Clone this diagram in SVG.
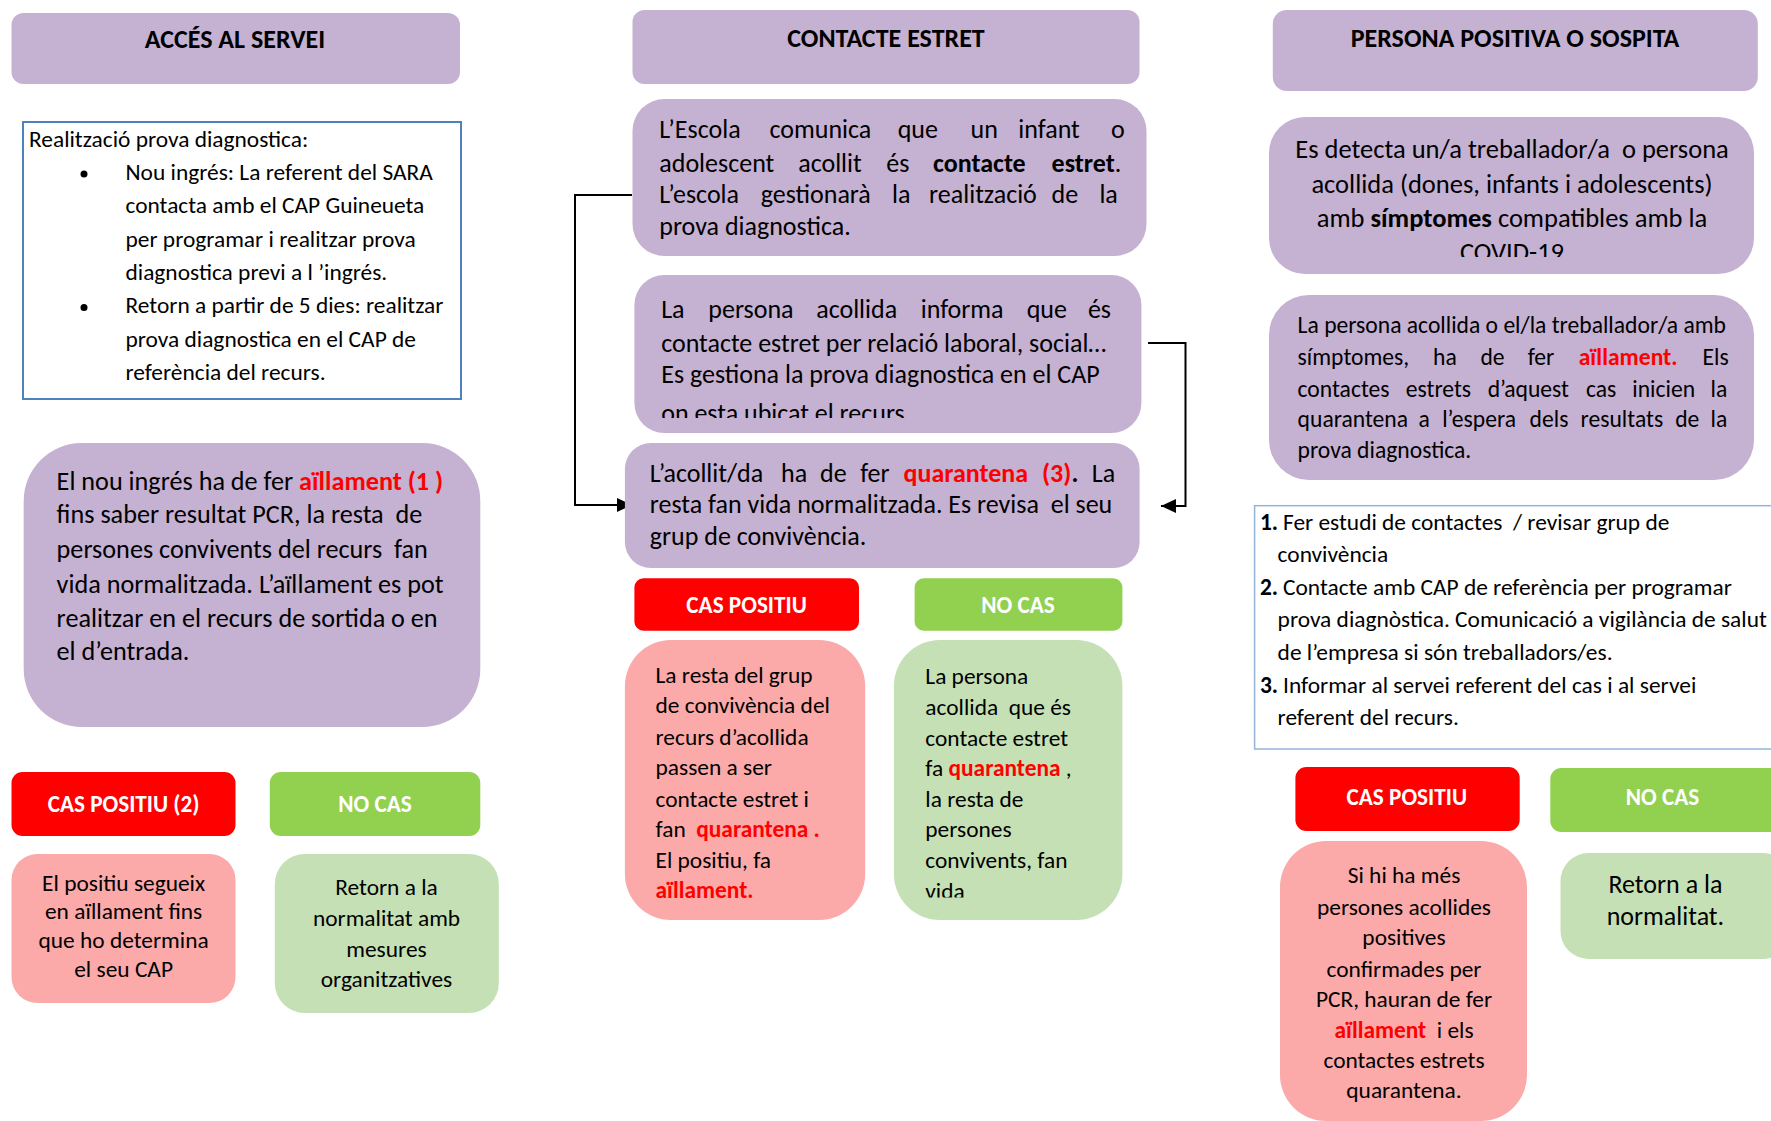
<svg xmlns="http://www.w3.org/2000/svg" width="1771" height="1121" viewBox="0 0 1771 1121">
<style>
text{font-family:Carlito,Lato,"Liberation Sans",sans-serif;fill:#000}
.hdr{fill:#c5b1d1}
.pur{fill:#c5b1d1}
.red{fill:#ff0000}
.grn{fill:#92d050}
.pink{fill:#fbaaa9}
.lgrn{fill:#c5e0b4}
.ht{font-size:26px;font-weight:bold;text-anchor:middle}
.lab{font-size:23.2px;font-weight:bold;text-anchor:middle;fill:#fff}
.b{font-weight:bold}
.r{font-weight:bold;fill:#ff0000}
.tblue{font-size:23.4px}
.tbig{font-size:26px}
.tleft{font-size:26.2px}
.tsm{font-size:23.4px}
.tr1{font-size:26.5px}
.tr2{font-size:23.6px}
.c{text-anchor:middle}
.conn{fill:none;stroke:#000;stroke-width:2}
</style>
<defs>
<marker id="arr" markerUnits="userSpaceOnUse" markerWidth="16" markerHeight="16" refX="15" refY="8" orient="auto">
<path d="M0,1 L15,8 L0,15 Z" fill="#000"/>
</marker>
<clipPath id="cp3"><rect x="634" y="275" width="508" height="143"/></clipPath>
<clipPath id="cpr1"><rect x="1269" y="117" width="485" height="140"/></clipPath>
<clipPath id="cpg"><rect x="894" y="640" width="228" height="257.5"/></clipPath>
</defs>

<g id="connectors">
<path class="conn" d="M632,195 H575 V505 H632" marker-end="url(#arr)"/>
<path class="conn" d="M1148,343 H1185.5 V506 H1161" marker-end="url(#arr)"/>
</g>

<!-- Left column -->
<g id="hdr-acces">
<rect class="hdr" x="11.5" y="13" width="448.5" height="71" rx="12"/>
<text class="ht" x="235" y="48">ACCÉS AL SERVEI</text>
</g>

<g id="prova-box">
<rect x="23" y="122" width="438" height="277" fill="#fff" stroke="#4f81bd" stroke-width="2"/>
<g class="tblue">
<text x="29" y="147">Realització prova diagnostica:</text>
<circle cx="84" cy="174" r="3.5"/>
<text x="125.5" y="180">Nou ingrés: La referent del SARA</text>
<text x="125.5" y="213.3">contacta amb el CAP Guineueta</text>
<text x="125.5" y="246.7">per programar i realitzar prova</text>
<text x="125.5" y="280">diagnostica previ a l ’ingrés.</text>
<circle cx="84" cy="307.5" r="3.5"/>
<text x="125.5" y="313.3">Retorn a partir de 5 dies: realitzar</text>
<text x="125.5" y="346.7">prova diagnostica en el CAP de</text>
<text x="125.5" y="380">referència del recurs.</text>
</g>
</g>

<g id="nou-ingres">
<rect class="pur" x="23.7" y="443" width="456.6" height="284" rx="58"/>
<g class="tleft">
<text x="56.6" y="490">El nou ingrés ha de fer <tspan class="r">aïllament (1 )</tspan></text>
<text x="56.6" y="523.3" xml:space="preserve">fins saber resultat PCR, la resta  de</text>
<text x="56.6" y="558.3" xml:space="preserve">persones convivents del recurs  fan</text>
<text x="56.6" y="592.7">vida normalitzada. L’aïllament es pot</text>
<text x="56.6" y="626.7">realitzar en el recurs de sortida o en</text>
<text x="56.6" y="660">el d’entrada.</text>
</g>
</g>

<g id="l-cas-positiu">
<rect class="red" x="11.5" y="772" width="224" height="64" rx="11"/>
<text class="lab" x="123.6" y="811.7">CAS POSITIU (2)</text>
</g>
<g id="l-no-cas">
<rect class="grn" x="269.8" y="772" width="210.5" height="64" rx="11"/>
<text class="lab" x="375" y="811.7">NO CAS</text>
</g>
<g id="l-positiu-text">
<rect class="pink" x="11.5" y="854" width="224" height="149" rx="26"/>
<g class="tsm c">
<text x="123.6" y="890.7">El positiu segueix</text>
<text x="123.6" y="919.3">en aïllament fins</text>
<text x="123.6" y="948.3">que ho determina</text>
<text x="123.6" y="976.7">el seu CAP</text>
</g>
</g>
<g id="l-nocas-text">
<rect class="lgrn" x="274.8" y="854" width="224" height="159" rx="30"/>
<g class="tsm c">
<text x="386.5" y="895">Retorn a la</text>
<text x="386.5" y="925.7">normalitat amb</text>
<text x="386.5" y="956.7">mesures</text>
<text x="386.5" y="987.3">organitzatives</text>
</g>
</g>

<!-- Center column -->
<g id="hdr-contacte">
<rect class="hdr" x="632.5" y="10" width="507" height="74" rx="12"/>
<text class="ht" x="886" y="47">CONTACTE ESTRET</text>
</g>

<g id="escola">
<rect class="pur" x="632.5" y="99" width="514" height="157" rx="32"/>
<g class="tbig">
<text y="138.3"><tspan x="659.3">L’Escola</tspan><tspan x="769.5">comunica</tspan><tspan x="897.7">que</tspan><tspan x="970.5">un</tspan><tspan x="1018.3">infant</tspan><tspan x="1110.9">o</tspan></text>
<text y="171.7"><tspan x="659.3">adolescent</tspan><tspan x="798.2">acollit</tspan><tspan x="886.3">és</tspan><tspan x="933" class="b">contacte</tspan><tspan x="1051.6"><tspan class="b">estret</tspan>.</tspan></text>
<text y="203.3"><tspan x="659.3">L’escola</tspan><tspan x="760.7">gestionarà</tspan><tspan x="892">la</tspan><tspan x="929.1">realització</tspan><tspan x="1051.6">de</tspan><tspan x="1099.4">la</tspan></text>
<text x="659.3" y="235">prova diagnostica.</text>
</g>
</g>

<g id="persona-informa">
<rect class="pur" x="634.4" y="275" width="507" height="158" rx="30"/>
<g class="tbig" clip-path="url(#cp3)">
<text y="318.3"><tspan x="661.2">La</tspan><tspan x="708.3">persona</tspan><tspan x="816.2">acollida</tspan><tspan x="920.7">informa</tspan><tspan x="1026.7">que</tspan><tspan x="1087.9">és</tspan></text>
<text x="661.2" y="351.7">contacte estret per relació laboral, social…</text>
<text x="661.2" y="383.3">Es gestiona la prova diagnostica en el CAP</text>
<text x="661.2" y="421.5">on esta ubicat el recurs</text>
</g>
</g>

<g id="quarantena">
<rect class="pur" x="624.9" y="443" width="514.7" height="125" rx="26"/>
<g class="tbig">
<text y="481.7"><tspan x="649.8">L’acollit/da</tspan><tspan x="781">ha</tspan><tspan x="820">de</tspan><tspan x="860.2">fer</tspan><tspan x="903.5" class="r">quarantena</tspan><tspan x="1042" class="r">(3)</tspan><tspan class="b">.</tspan><tspan x="1091.8">La</tspan></text>
<text x="649.8" y="513.3" xml:space="preserve">resta fan vida normalitzada. Es revisa  el seu</text>
<text x="649.8" y="545">grup de convivència.</text>
</g>
</g>

<g id="c-cas-positiu">
<rect class="red" x="634.4" y="578.3" width="224.6" height="52.4" rx="9"/>
<text class="lab" x="746.6" y="613.3">CAS POSITIU</text>
</g>
<g id="c-no-cas">
<rect class="grn" x="914.6" y="578.3" width="207.8" height="52.4" rx="9"/>
<text class="lab" x="1018" y="613.3">NO CAS</text>
</g>
<g id="c-positiu-text">
<rect class="pink" x="624.9" y="640" width="240.3" height="280" rx="46"/>
<g class="tsm">
<text x="655.5" y="683.3">La resta del grup</text>
<text x="655.5" y="713.3">de convivència del</text>
<text x="655.5" y="745">recurs d’acollida</text>
<text x="655.5" y="775">passen a ser</text>
<text x="655.5" y="806.7">contacte estret i</text>
<text x="655.5" y="836.7" xml:space="preserve">fan  <tspan class="r">quarantena .</tspan></text>
<text x="655.5" y="868.3">El positiu, fa</text>
<text x="655.5" y="898.3" class="r">aïllament.</text>
</g>
</g>
<g id="c-nocas-text">
<rect class="lgrn" x="893.9" y="640" width="228.5" height="280" rx="46"/>
<g class="tsm" clip-path="url(#cpg)">
<text x="925.3" y="684.3">La persona</text>
<text x="925.3" y="715" xml:space="preserve">acollida  que és</text>
<text x="925.3" y="745.7">contacte estret</text>
<text x="925.3" y="776" xml:space="preserve">fa <tspan class="r">quarantena</tspan> ,</text>
<text x="925.3" y="806.7">la resta de</text>
<text x="925.3" y="837">persones</text>
<text x="925.3" y="868">convivents, fan</text>
<text x="925.3" y="899">vida</text>
</g>
</g>

<!-- Right column -->
<g id="hdr-persona">
<rect class="hdr" x="1272.8" y="10" width="485" height="81" rx="14"/>
<text class="ht" x="1515" y="47">PERSONA POSITIVA O SOSPITA</text>
</g>

<g id="detecta">
<rect class="pur" x="1269" y="117" width="485" height="157" rx="36"/>
<g class="tr1 c" clip-path="url(#cpr1)">
<text x="1512" y="158.3" xml:space="preserve">Es detecta un/a treballador/a  o persona</text>
<text x="1512" y="192.7">acollida (dones, infants i adolescents)</text>
<text x="1512" y="226.7">amb <tspan class="b">símptomes</tspan> compatibles amb la</text>
<text x="1512" y="261">COVID-19</text>
</g>
</g>

<g id="aillament">
<rect class="pur" x="1269" y="295" width="485" height="185" rx="40"/>
<g class="tr2">
<text x="1297.6" y="333.3">La persona acollida o el/la treballador/a amb</text>
<text y="365"><tspan x="1297.6">símptomes,</tspan><tspan x="1433">ha</tspan><tspan x="1480.4">de</tspan><tspan x="1527.7">fer</tspan><tspan x="1578.7" class="r">aïllament.</tspan><tspan x="1702.5">Els</tspan></text>
<text y="396.7"><tspan x="1297.6">contactes</tspan><tspan x="1405.8">estrets</tspan><tspan x="1487.7">d’aquest</tspan><tspan x="1586">cas</tspan><tspan x="1632.3">inicien</tspan><tspan x="1710.6">la</tspan></text>
<text y="426.7"><tspan x="1297.6">quarantena</tspan><tspan x="1418.5">a</tspan><tspan x="1442.2">l’espera</tspan><tspan x="1529.6">dels</tspan><tspan x="1580.6">resultats</tspan><tspan x="1675.2">de</tspan><tspan x="1710.6">la</tspan></text>
<text x="1297.6" y="458.3">prova diagnostica.</text>
</g>
</g>

<g id="passos">
<rect x="1254.6" y="505.7" width="530" height="243.3" fill="#fff" stroke="#95b3d7" stroke-width="1.5"/>
<g class="tsm">
<text y="530" xml:space="preserve"><tspan x="1260" class="b">1.</tspan><tspan x="1283">Fer estudi de contactes  / revisar grup de</tspan></text>
<text x="1277.6" y="561.7">convivència</text>
<text y="595"><tspan x="1260" class="b">2.</tspan><tspan x="1283">Contacte amb CAP de referència per programar</tspan></text>
<text x="1277.6" y="626.7">prova diagnòstica. Comunicació a vigilància de salut</text>
<text x="1277.6" y="660">de l’empresa si són treballadors/es.</text>
<text y="693.3"><tspan x="1260" class="b">3.</tspan><tspan x="1283">Informar al servei referent del cas i al servei</tspan></text>
<text x="1277.6" y="725">referent del recurs.</text>
</g>
</g>

<g id="r-cas-positiu">
<rect class="red" x="1295.4" y="767" width="224.3" height="64" rx="11"/>
<text class="lab" x="1406.8" y="805">CAS POSITIU</text>
</g>
<g id="r-no-cas">
<rect class="grn" x="1550.3" y="768" width="230" height="64" rx="11"/>
<text class="lab" x="1662.5" y="805">NO CAS</text>
</g>
<g id="r-positiu-text">
<rect class="pink" x="1280" y="841" width="247" height="280" rx="46"/>
<g class="tsm c">
<text x="1404" y="883.3">Si hi ha més</text>
<text x="1404" y="915">persones acollides</text>
<text x="1404" y="945">positives</text>
<text x="1404" y="976.7">confirmades per</text>
<text x="1404" y="1006.7">PCR, hauran de fer</text>
<text x="1404" y="1038.3" xml:space="preserve"><tspan class="r">aïllament</tspan>  i els</text>
<text x="1404" y="1068.3">contactes estrets</text>
<text x="1404" y="1098.3">quarantena.</text>
</g>
</g>
<g id="r-nocas-text">
<rect class="lgrn" x="1560.5" y="853" width="230" height="106" rx="28"/>
<g class="tbig c">
<text x="1665.4" y="892.7">Retorn a la</text>
<text x="1665.4" y="925">normalitat.</text>
</g>
</g>
</svg>
